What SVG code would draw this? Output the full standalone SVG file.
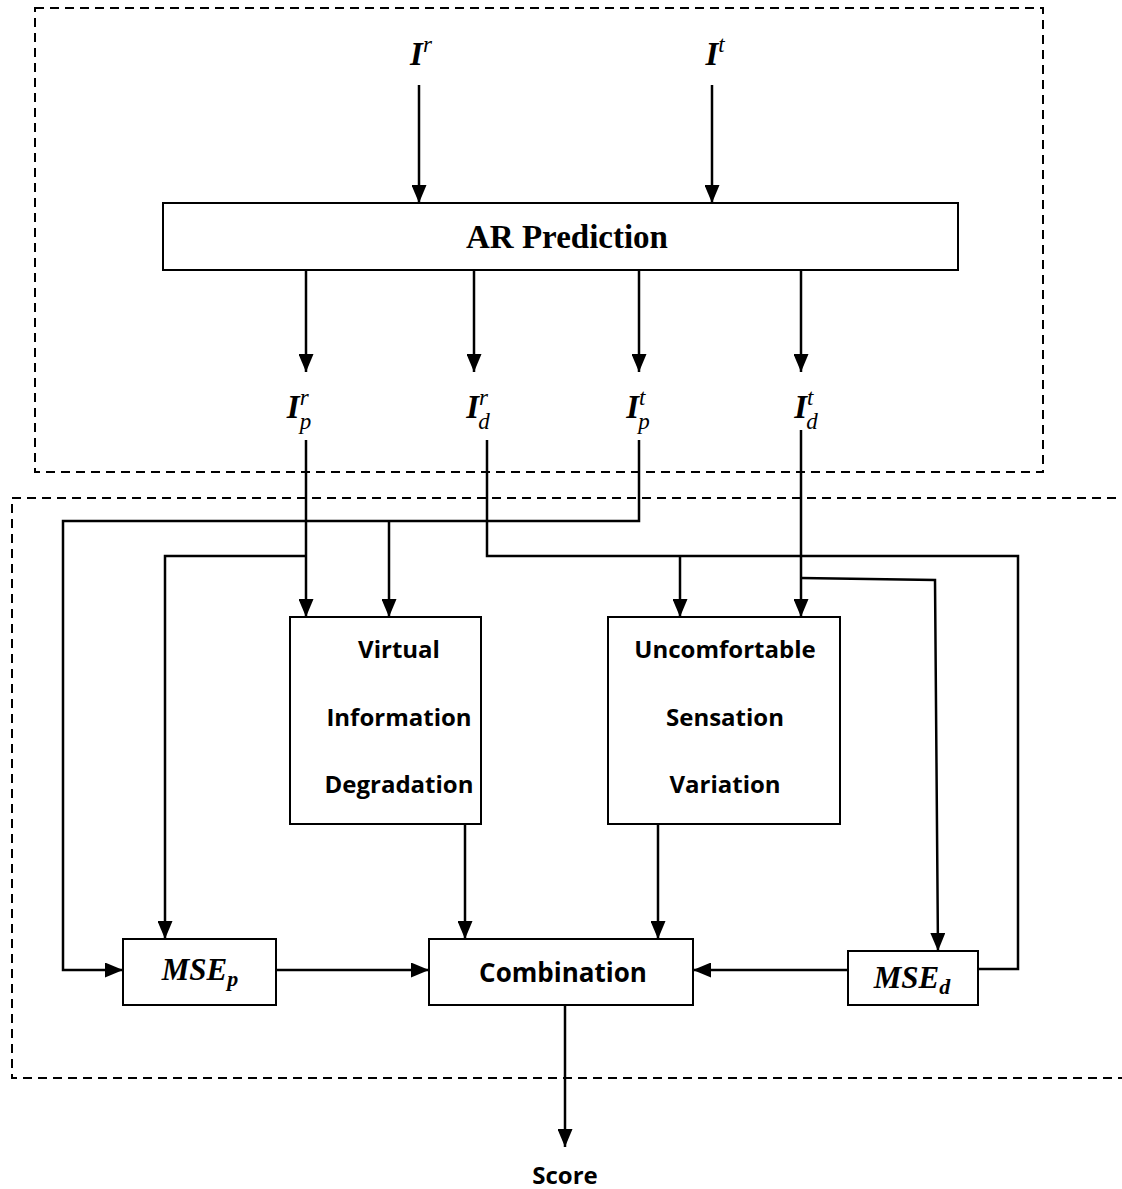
<svg xmlns="http://www.w3.org/2000/svg" width="1122" height="1189" viewBox="0 0 1122 1189">
<style>
.box{fill:#fff;stroke:#000;stroke-width:2}
.dash{fill:none;stroke:#000;stroke-width:2;stroke-dasharray:9 6}
.ln{fill:none;stroke:#000;stroke-width:2.5}
.lbl{font-family:"Open Sans","Liberation Sans",sans-serif;font-weight:bold;font-size:24px;text-anchor:middle}
.math{font-family:"Liberation Serif","DejaVu Serif",serif;font-style:italic;font-size:33px;text-anchor:middle}
.mb{font-weight:bold}
.sub{font-size:23px;font-weight:normal}
.title{font-family:"Liberation Serif","DejaVu Serif",serif;font-weight:bold;font-size:33px;text-anchor:middle}
</style>
<defs>
<marker id="ah" viewBox="0 0 18 15" refX="18" refY="7.5" markerWidth="18" markerHeight="15" markerUnits="userSpaceOnUse" orient="auto">
<path d="M0,0 L18,7.5 L0,15 z" fill="#000"/>
</marker>
</defs>
<rect class="dash" x="35" y="8" width="1008" height="464"/>
<rect class="dash" x="12" y="498" width="1130" height="580"/>
<g id="connectors">
<line class="ln" x1="419" y1="85" x2="419" y2="203" marker-end="url(#ah)"/>
<line class="ln" x1="712" y1="85" x2="712" y2="203" marker-end="url(#ah)"/>
<line class="ln" x1="306" y1="270" x2="306" y2="372" marker-end="url(#ah)"/>
<line class="ln" x1="474" y1="270" x2="474" y2="372" marker-end="url(#ah)"/>
<line class="ln" x1="639" y1="270" x2="639" y2="372" marker-end="url(#ah)"/>
<line class="ln" x1="801" y1="270" x2="801" y2="372" marker-end="url(#ah)"/>
<line class="ln" x1="306" y1="440" x2="306" y2="617" marker-end="url(#ah)"/>
<polyline class="ln" points="306,556 165,556 165,939" marker-end="url(#ah)"/>
<polyline class="ln" points="639,440 639,521 63,521 63,970 123,970" marker-end="url(#ah)"/>
<line class="ln" x1="389" y1="521" x2="389" y2="617" marker-end="url(#ah)"/>
<polyline class="ln" points="487,440 487,556 1018,556 1018,969 978,969"/>
<line class="ln" x1="680" y1="556" x2="680" y2="617" marker-end="url(#ah)"/>
<line class="ln" x1="801" y1="430" x2="801" y2="617" marker-end="url(#ah)"/>
<polyline class="ln" points="801,578 935,580 938,951" marker-end="url(#ah)"/>
<line class="ln" x1="465" y1="824" x2="465" y2="939" marker-end="url(#ah)"/>
<line class="ln" x1="658" y1="824" x2="658" y2="939" marker-end="url(#ah)"/>
<line class="ln" x1="276" y1="970" x2="429" y2="970" marker-end="url(#ah)"/>
<line class="ln" x1="848" y1="970" x2="693" y2="970" marker-end="url(#ah)"/>
<line class="ln" x1="565" y1="1005" x2="565" y2="1147" marker-end="url(#ah)"/>
</g>
<g id="Ir"><text class="math" x="421" y="65"><tspan class="mb">I</tspan><tspan class="sub" dy="-13">r</tspan></text></g>
<g id="It"><text class="math" x="715" y="65"><tspan class="mb">I</tspan><tspan class="sub" dy="-13">t</tspan></text></g>
<g id="ar"><rect class="box" x="163" y="203" width="795" height="67"/><text class="title" x="567" y="248">AR Prediction</text></g>
<g id="Ipr"><text class="math" x="299" y="418"><tspan class="mb">I</tspan><tspan class="sub" dy="-13">r</tspan><tspan class="sub" dx="-9" dy="24">p</tspan></text></g>
<g id="Idr"><text class="math" x="478" y="418"><tspan class="mb">I</tspan><tspan class="sub" dy="-13">r</tspan><tspan class="sub" dx="-9" dy="24">d</tspan></text></g>
<g id="Ipt"><text class="math" x="638" y="418"><tspan class="mb">I</tspan><tspan class="sub" dy="-13">t</tspan><tspan class="sub" dx="-7" dy="24">p</tspan></text></g>
<g id="Idt"><text class="math" x="806" y="418"><tspan class="mb">I</tspan><tspan class="sub" dy="-13">t</tspan><tspan class="sub" dx="-7" dy="24">d</tspan></text></g>
<g id="vid"><rect class="box" x="290" y="617" width="191" height="207"/>
<text class="lbl" x="399" y="658">Virtual</text><text class="lbl" x="399" y="726">Information</text><text class="lbl" x="399" y="793">Degradation</text></g>
<g id="usv"><rect class="box" x="608" y="617" width="232" height="207"/>
<text class="lbl" x="725" y="658">Uncomfortable</text><text class="lbl" x="725" y="726">Sensation</text><text class="lbl" x="725" y="793">Variation</text></g>
<g id="msep"><rect class="box" x="123" y="939" width="153" height="66"/><text class="math mb" x="200" y="980" style="font-size:31px"><tspan>MSE</tspan><tspan dy="6" style="font-size:22px">p</tspan></text></g>
<g id="comb"><rect class="box" x="429" y="939" width="264" height="66"/><text class="lbl" x="563" y="982" style="font-size:26px">Combination</text></g>
<g id="msed"><rect class="box" x="848" y="951" width="130" height="54"/><text class="math mb" x="912" y="988" style="font-size:31px"><tspan>MSE</tspan><tspan dy="6" style="font-size:22px">d</tspan></text></g>
<g id="score"><text class="lbl" x="565" y="1184" style="font-size:24px">Score</text></g>
</svg>
